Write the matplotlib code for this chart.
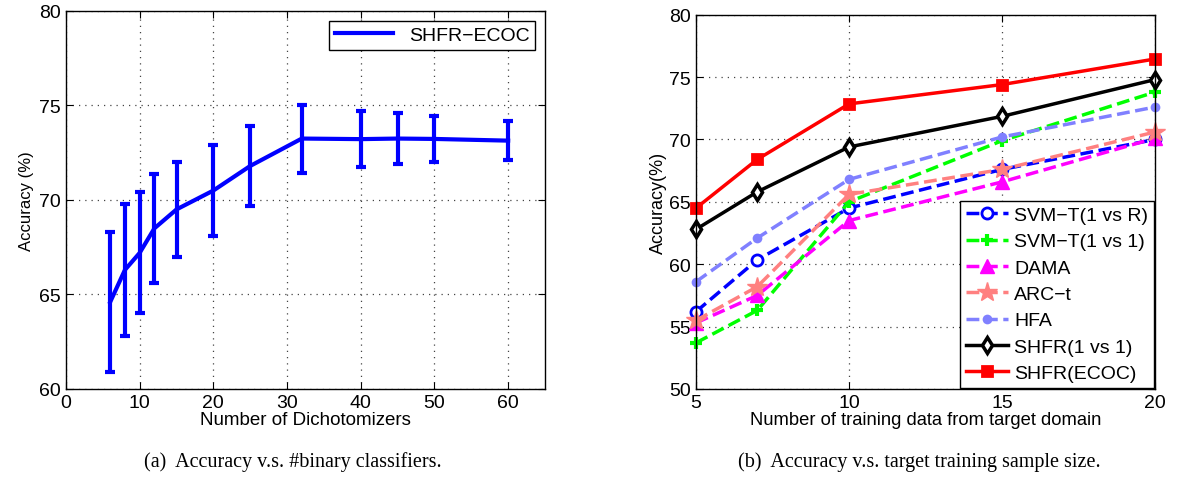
import numpy as np
import matplotlib
matplotlib.use("Agg")
import matplotlib.pyplot as plt

plt.rcParams['font.family'] = ['Liberation Sans', 'DejaVu Sans']
plt.rcParams['xtick.direction'] = 'in'
plt.rcParams['ytick.direction'] = 'in'
plt.rcParams['xtick.top'] = True
plt.rcParams['ytick.right'] = True

# (a) accuracy vs number of dichotomizers
n_dich = [6, 8, 10, 12, 15, 20, 25, 32, 40, 45, 50, 60]
acc_dich = [64.6, 66.3, 67.2, 68.5, 69.5, 70.5, 71.8, 73.25, 73.22, 73.25, 73.23, 73.14]
err_dich = [3.7, 3.5, 3.2, 2.9, 2.5, 2.4, 2.1, 1.8, 1.5, 1.35, 1.22, 1.02]

# (b) accuracy vs number of target training samples
n_train = [5, 7, 10, 15, 20]
svmt_1vr = [56.2, 60.35, 64.5, 67.6, 70.0]
svmt_1v1 = [53.7, 56.3, 65.0, 69.9, 73.8]
dama = [55.3, 57.5, 63.5, 66.6, 70.1]
arct = [55.5, 58.2, 65.6, 67.6, 70.6]
hfa = [58.6, 62.1, 66.8, 70.2, 72.6]
shfr_1v1 = [62.8, 65.8, 69.4, 71.85, 74.8]
shfr_ecoc = [64.5, 68.4, 72.85, 74.4, 76.45]

fig = plt.figure(figsize=(11.97, 4.81), dpi=100)
ax1 = fig.add_axes([0.0551, 0.1892, 0.4002, 0.7859])
ax2 = fig.add_axes([0.5815, 0.1892, 0.3835, 0.7782])

grid_kw = dict(color='#444444', linestyle=(0, (1, 4)), linewidth=0.9)
tick_fs = 14

# left
ax1.errorbar(n_dich, acc_dich, yerr=err_dich, color='blue', linewidth=3,
             elinewidth=3, capsize=3.5, capthick=3)
ax1.plot([], [], color='blue', linewidth=3, label='SHFR\u2212ECOC')
ax1.set_xlim(0, 65)
ax1.set_ylim(60, 80)
ax1.set_xticks(np.arange(0, 61, 10))
ax1.set_yticks(np.arange(60, 81, 5))
ax1.grid(True, **grid_kw)
ax1.tick_params(labelsize=tick_fs, length=5, width=0.8)
ax1.set_xlabel('Number of Dichotomizers', fontsize=13.5, labelpad=0)
ax1.set_ylabel('Accuracy (%)', fontsize=12, labelpad=4)
leg1 = ax1.legend(loc='upper right', fontsize=14, fancybox=False, framealpha=1,
                  edgecolor='black', handlelength=3, borderaxespad=0.5,
                  borderpad=0.3)
leg1.get_frame().set_linewidth(1)

# right
lw = 2.5
ax2.plot(n_train, svmt_1vr, '--o', color='blue', lw=lw, mfc='white', mew=2,
         ms=8, label='SVM\u2212T(1 vs R)', clip_on=False)
ax2.plot(n_train, svmt_1v1, '--+', color='#00ff00', lw=lw, mew=3, ms=9,
         label='SVM\u2212T(1 vs 1)', clip_on=False)
ax2.plot(n_train, dama, '--^', color='magenta', lw=lw, mew=1, ms=10,
         mfc='magenta', label='DAMA', clip_on=False)
ax2.plot(n_train, arct, '--*', color='#ff8080', lw=lw, ms=15,
         label='ARC\u2212t', clip_on=False)
ax2.plot(n_train, hfa, '--o', color='#8080ff', lw=lw, ms=7, mew=0,
         label='HFA', clip_on=False)
ax2.plot(n_train, shfr_1v1, '-d', color='black', lw=lw, mfc='white', mew=2.5,
         ms=8, label='SHFR(1 vs 1)', clip_on=False)
ax2.plot(n_train, shfr_ecoc, '-s', color='red', lw=lw, mfc='red', mew=2,
         ms=7, label='SHFR(ECOC)', clip_on=False)
ax2.set_xlim(5, 20)
ax2.set_ylim(50, 80)
ax2.set_xticks([5, 10, 15, 20])
ax2.set_yticks(np.arange(50, 81, 5))
ax2.grid(True, **grid_kw)
ax2.tick_params(labelsize=tick_fs, length=5, width=0.8)
ax2.set_xlabel('Number of training data from target domain', fontsize=13.2,
               labelpad=0)
ax2.set_ylabel('Accuracy(%)', fontsize=13, labelpad=2)
leg2 = ax2.legend(loc='lower right', fontsize=14, fancybox=False, framealpha=1,
                  edgecolor='black', handlelength=2.2, borderaxespad=0.05,
                  borderpad=0.3, labelspacing=0.45, handletextpad=0.3)
leg2.get_frame().set_linewidth(1)

for ax in (ax1, ax2):
    for s in ax.spines.values():
        s.set_linewidth(1)

cap_kw = dict(fontsize=14.5, family=['Liberation Serif', 'DejaVu Serif'],
              ha='center', va='center')
fig.text(0.245, 1 - 462 / 481, '(a)  Accuracy v.s. #binary classifiers.', **cap_kw)
fig.text(0.768, 1 - 462 / 481, '(b)  Accuracy v.s. target training sample size.', **cap_kw)

fig.savefig('out.png', dpi=100)
